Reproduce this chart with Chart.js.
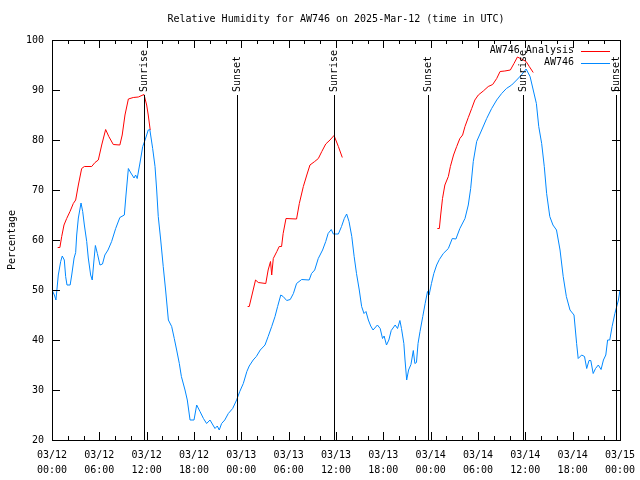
<!DOCTYPE html>
<html>
<head>
<meta charset="utf-8">
<script src="https://cdn.jsdelivr.net/npm/chart.js@4.4.1/dist/chart.umd.min.js"></script>
<style>
  html, body { margin: 0; padding: 0; background: #fff; }
  canvas { display: block; }
</style>
</head>
<body>
<canvas id="rh-chart" width="640" height="480"></canvas>
<script>
// Hours since 03/12 00:00 UTC and observed RH (%)
const obsHours = [0, 0.3, 0.5, 0.8, 1.1, 1.3, 1.56, 1.73, 1.9, 2.3, 2.5, 2.8, 3.0, 3.13, 3.34, 3.68, 3.89, 4.1, 4.4, 4.6, 4.9, 5.1, 5.3, 5.5, 5.75, 6.08, 6.4, 6.7, 7.1, 7.56, 8.07, 8.6, 9.17, 9.38, 9.68, 10.0, 10.4, 10.6, 10.8, 11.15, 11.5, 11.8, 12.2, 12.4, 12.76, 13.06, 13.27, 13.47, 13.78, 14.1, 14.4, 14.75, 15.17, 15.5, 15.8, 16.14, 16.4, 16.86, 17.15, 17.5, 18.0, 18.34, 18.76, 19.2, 19.6, 20.03, 20.4, 20.66, 20.95, 21.2, 21.5, 21.9, 22.35, 22.9, 23.4, 23.8, 24.25, 24.7, 25.0, 25.5, 25.9, 26.4, 27.0, 27.4, 27.85, 28.27, 28.6, 29.0, 29.3, 29.75, 30.2, 30.6, 31.0, 31.65, 32.6, 32.9, 33.3, 33.75, 34.3, 34.7, 35.0, 35.4, 35.66, 36.3, 36.7, 37.05, 37.35, 37.65, 38.0, 38.3, 38.6, 38.95, 39.25, 39.55, 39.8, 40.1, 40.4, 40.7, 41.25, 41.6, 41.9, 42.1, 42.4, 42.7, 43.0, 43.5, 43.8, 44.1, 44.3, 44.6, 44.75, 44.96, 45.2, 45.5, 45.8, 46.0, 46.2, 46.4, 46.65, 47.0, 47.3, 47.6, 47.8, 48.1, 48.4, 48.76, 49.1, 49.6, 50.24, 50.74, 51.2, 51.7, 52.35, 52.77, 53.07, 53.4, 53.83, 54.47, 55.1, 55.73, 56.37, 57.0, 57.6, 58.27, 58.9, 59.5, 60.1, 60.6, 61.0, 61.4, 61.7, 62.07, 62.4, 62.7, 63.1, 63.5, 63.95, 64.4, 64.8, 65.2, 65.66, 66.17, 66.5, 66.7, 67.14, 67.5, 67.78, 68.07, 68.3, 68.6, 68.9, 69.25, 69.6, 69.9, 70.2, 70.43, 70.7, 71.0, 71.35, 71.8, 72];
const obsValues = [50, 49, 48, 53, 55.7, 56.8, 56, 52.7, 51, 51, 53, 56.4, 57.5, 61, 64.4, 67.4, 65.7, 63, 59.7, 56.4, 53, 52, 55.6, 58.9, 57.3, 55, 55.2, 57, 58, 59.7, 62.3, 64.5, 65, 69, 74.3, 73.4, 72.4, 73, 72.3, 75.4, 78.7, 80, 82, 82.1, 78.3, 74.7, 70, 64.7, 60, 54.7, 50, 44, 42.7, 40.3, 38, 35.3, 32.7, 30, 28, 24, 24, 27, 25.7, 24.3, 23.3, 24, 23, 22.3, 22.8, 22, 23.3, 24, 25.3, 26.3, 28, 29.7, 31.3, 33.7, 34.8, 36, 36.7, 38, 39, 40.7, 42.7, 44.7, 46.7, 49, 48.7, 47.9, 48.1, 49.3, 51.3, 52.1, 52, 53.3, 54, 56.3, 58, 59.7, 61.3, 62.1, 61.2, 61.2, 62.7, 64.3, 65.2, 63.7, 60.7, 56.7, 53.3, 50, 46.7, 45.3, 45.7, 44, 42.8, 42, 43, 42.3, 40.3, 40.8, 39, 40, 41.9, 43, 42.3, 43.9, 42.3, 39.3, 36, 32, 34, 35.1, 37.9, 35.3, 35.5, 39.3, 41.7, 44.7, 47.3, 49.7, 49, 51.3, 53.3, 55, 56.1, 57.3, 58.3, 60.3, 60.2, 62.3, 64.3, 67, 70.3, 75.7, 79.7, 82, 84.3, 86.3, 88, 89.3, 90.3, 91, 92, 93, 94.2, 92.7, 90, 87.3, 82.7, 79.3, 74.7, 69.3, 64.7, 63, 62, 58, 52.7, 48.7, 46, 45, 39.3, 36.3, 37, 36.7, 34.3, 35.9, 35.9, 33.3, 34.3, 35, 34.1, 36, 37, 40, 40, 42.7, 45.3, 48, 50];

// Analysis RH (%), null marks the gaps between runs
const anaHours = [0.72, 1.0, 1.23, 1.52, 1.86, 2.28, 2.7, 3.0, 3.34, 3.76, 4.1, 5.03, 5.45, 5.87, 6.3, 6.8, 7.2, 7.77, 8.6, 8.9, 9.25, 9.68, 10.3, 10.94, 11.66, 12.0, 12.2, 12.45, 18, 24.8, 25.0, 25.5, 25.8, 26.15, 27.1, 27.4, 27.7, 27.85, 28.05, 28.5, 28.8, 29.1, 29.3, 29.66, 31.0, 31.35, 31.86, 32.3, 32.7, 33.3, 33.76, 34.2, 34.7, 35.24, 35.75, 36.3, 36.8, 42, 48.85, 49.1, 49.27, 49.5, 49.8, 50.24, 50.5, 50.9, 51.3, 51.7, 52.05, 52.35, 52.77, 53.2, 53.6, 54.04, 54.67, 55.3, 55.86, 56.37, 56.8, 57.4, 58.1, 58.56, 59.0, 59.5, 60.1, 60.5, 61.0];
const anaValues = [58.5, 58.5, 60.7, 63, 64.3, 65.7, 67.3, 68, 71, 74.3, 74.7, 74.7, 75.5, 76, 79, 82.1, 80.7, 79.1, 79, 81, 85, 88.2, 88.5, 88.6, 89.1, 87, 85, 82, null, 46.7, 46.7, 50, 52, 51.5, 51.3, 54, 55.7, 53, 56.3, 57.7, 58.7, 58.7, 61.3, 64.3, 64.2, 67.3, 70.7, 73, 75, 75.7, 76.3, 77.7, 79.2, 80, 80.9, 78.7, 76.5, null, 62.3, 62.3, 65, 68.3, 71, 72.7, 74.7, 77, 78.7, 80.3, 81, 82.7, 84.5, 86.3, 88, 89, 89.8, 90.7, 91.1, 92.3, 93.7, 93.8, 94, 95.3, 96.6, 96.2, 95.7, 94.7, 93.5];

// Sunrise / sunset markers
const eventHours = [11.7, 23.5, 35.8, 47.6, 59.75, 71.5];
const eventLabels = ['Sunrise', 'Sunset', 'Sunrise', 'Sunset', 'Sunrise', 'Sunset'];

// x tick labels every 6 hours
const tickDates = ['03/12', '03/12', '03/12', '03/12', '03/13', '03/13', '03/13', '03/13', '03/14', '03/14', '03/14', '03/14', '03/15'];
const tickTimes = ['00:00', '06:00', '12:00', '18:00', '00:00', '06:00', '12:00', '18:00', '00:00', '06:00', '12:00', '18:00', '00:00'];

const seriesNames = ['AW746 Analysis', 'AW746'];
const seriesColors = ['#ff0000', '#0088ff'];
const chartTitle = 'Relative Humidity for AW746 on 2025-Mar-12 (time in UTC)';

const FONT = '"DejaVu Sans Mono", monospace';

function toPoints(hours, values) {
    return hours.map((h, i) => ({ x: h, y: values[i] }));
}

// gnuplot style frame: inward ticks on all 4 sides, sun lines, legend, title
const framePlugin = {
    id: 'framePlugin',
    afterDatasetsDraw(chart) {
        const { ctx, chartArea: a, scales: { x, y } } = chart;
        ctx.save();
        ctx.strokeStyle = '#000';
        ctx.lineWidth = 1;

        const seg = (x1, y1, x2, y2) => {
            ctx.beginPath();
            ctx.moveTo(x1, y1);
            ctx.lineTo(x2, y2);
            ctx.stroke();
        };

        // title, centred over the plot
        ctx.fillStyle = '#000';
        ctx.font = '10px ' + FONT;
        ctx.textAlign = 'center';
        ctx.textBaseline = 'middle';
        ctx.fillText(chartTitle, (a.left + a.right) / 2, 19);

        // sunrise / sunset
        eventHours.forEach((h, i) => {
            const px = Math.round(x.getPixelForValue(h)) + 0.5;
            const topY = a.top + 55;
            seg(px, a.bottom, px, topY);
            ctx.save();
            ctx.translate(px, topY - 3);
            ctx.rotate(-Math.PI / 2);
            ctx.textAlign = 'left';
            ctx.textBaseline = 'middle';
            ctx.fillText(eventLabels[i], 0, 0);
            ctx.restore();
        });

        // frame
        ctx.strokeRect(Math.round(a.left) + 0.5, Math.round(a.top) + 0.5,
            Math.round(a.right - a.left), Math.round(a.bottom - a.top));

        // x ticks (major 6h, minor 2h)
        for (let h = 0; h <= 72; h += 2) {
            const px = Math.round(x.getPixelForValue(h)) + 0.5;
            const len = h % 6 === 0 ? 8 : 4;
            seg(px, a.bottom, px, a.bottom - len);
            seg(px, a.top, px, a.top + len);
        }
        // y ticks
        for (let v = 20; v <= 100; v += 10) {
            const py = Math.round(y.getPixelForValue(v)) + 0.5;
            seg(a.left, py, a.left + 8, py);
            seg(a.right, py, a.right - 8, py);
        }

        // legend
        ctx.textAlign = 'right';
        seriesNames.forEach((name, i) => {
            const ly = a.top + 10.5 + i * 12;
            ctx.fillStyle = '#000';
            ctx.fillText(name, a.right - 46, ly);
            ctx.strokeStyle = seriesColors[i];
            seg(a.right - 39, Math.round(ly) + 0.5, a.right - 10, Math.round(ly) + 0.5);
        });
        ctx.restore();
    }
};

const ctxLine = document.getElementById('rh-chart');

const lineChart = new Chart(ctxLine, {
    type: 'line',
    data: {
        datasets: [{
                label: seriesNames[0],
                data: toPoints(anaHours, anaValues),
                borderColor: seriesColors[0],
                borderWidth: 1,
                pointRadius: 0,
                spanGaps: false,
                tension: 0,
                order: 2
            },
            {
                label: seriesNames[1],
                data: toPoints(obsHours, obsValues),
                borderColor: seriesColors[1],
                borderWidth: 1,
                pointRadius: 0,
                tension: 0,
                order: 1
            }
        ]
    },
    options: {
        responsive: false,
        animation: false,
        devicePixelRatio: 1,
        layout: { padding: { top: 40, right: 20, left: 0, bottom: 0 } },
        plugins: {
            legend: { display: false },
            tooltip: { enabled: false },
            title: { display: false }
        },
        scales: {
            x: {
                type: 'linear',
                min: 0,
                max: 72,
                grid: { display: false, drawTicks: false },
                border: { display: false },
                afterFit: (scale) => {
                    scale.height = 40;
                    scale.paddingLeft = 0;
                    scale.paddingRight = 0;
                },
                ticks: {
                    stepSize: 6,
                    autoSkip: false,
                    maxRotation: 0,
                    padding: 8,
                    color: '#000',
                    font: { family: FONT, size: 10, lineHeight: 1.5 },
                    callback: (v) => [tickDates[v / 6], tickTimes[v / 6]]
                }
            },
            y: {
                min: 20,
                max: 100,
                grid: { display: false, drawTicks: false },
                border: { display: false },
                afterFit: (scale) => {
                    scale.width = 52;
                    scale.paddingTop = 0;
                    scale.paddingBottom = 0;
                },
                title: {
                    display: true,
                    text: 'Percentage',
                    color: '#000',
                    font: { family: FONT, size: 10 },
                    padding: { top: 6, bottom: 0 }
                },
                ticks: {
                    stepSize: 10,
                    padding: 8,
                    color: '#000',
                    font: { family: FONT, size: 10 }
                }
            }
        }
    },
    plugins: [framePlugin]
});
</script>
</body>
</html>
